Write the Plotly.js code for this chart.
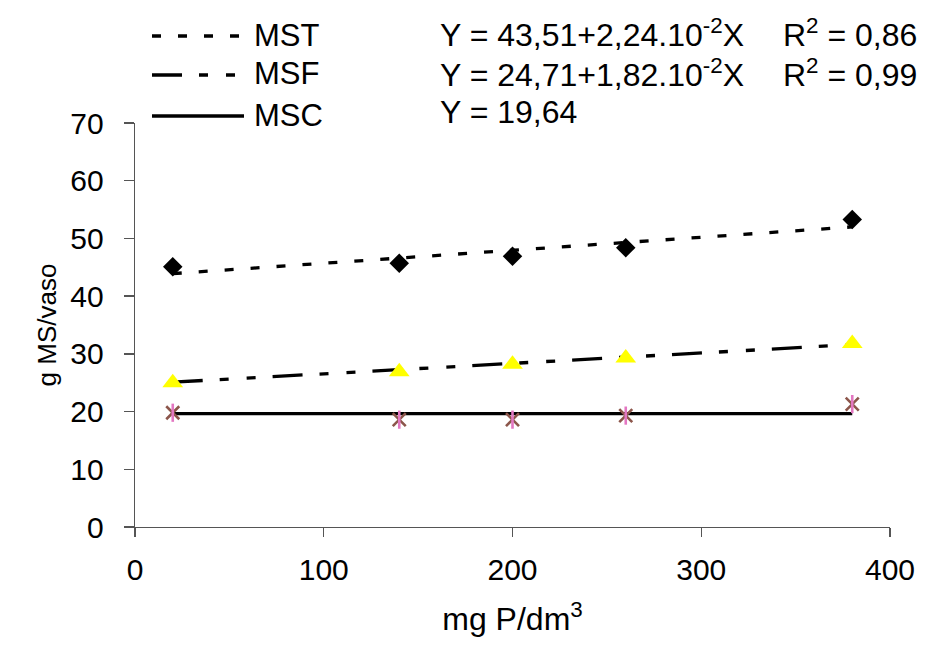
<!DOCTYPE html>
<html>
<head>
<meta charset="utf-8">
<script src="https://cdn.plot.ly/plotly-3.0.1.min.js"></script>
<style>
  html, body { margin: 0; padding: 0; background: #fff; }
  #chart { width: 926px; height: 646px; }
</style>
</head>
<body>
<div id="chart"></div>
<script>
// ---- data ----
var doses = [20, 140, 200, 260, 380];            // mg P/dm3
var mstObs = [45.1, 45.7, 46.9, 48.4, 53.3];      // MST observed
var msfObs = [25.0, 26.9, 28.2, 29.3, 31.8];      // MSF observed
var mscObs = [19.8, 18.6, 18.6, 19.3, 21.3];      // MSC observed
var mstFit = [43.9, 46.6, 48.0, 49.3, 52.0];      // MST fitted line
var msfFit = [25.1, 27.3, 28.3, 29.4, 31.6];      // MSF fitted line
var mscFit = [19.64, 19.64, 19.64, 19.64, 19.64]; // MSC mean line
var seriesNames = ['MST', 'MSF', 'MSC'];
var equations = [
  'Y = 43,51+2,24.10<sup>-2</sup>X',
  'Y = 24,71+1,82.10<sup>-2</sup>X',
  'Y = 19,64'
];
var r2Labels = ['R<sup>2</sup> = 0,86', 'R<sup>2</sup> = 0,99'];
var xTicks = [0, 100, 200, 300, 400];
var yTicks = [0, 10, 20, 30, 40, 50, 60, 70];

// ---- styling ----
var FONT = 'Liberation Sans, Arial, Helvetica, sans-serif';
var dashMST = '9px,17px';
var dashMSF = '30px,17px,9px,18px,9px,17px';
var lineW = 3.3;

var traces = [
  {x: doses, y: mstFit, mode: 'lines', line: {color: '#000', width: lineW, dash: dashMST}, hoverinfo: 'skip'},
  {x: doses, y: msfFit, mode: 'lines', line: {color: '#000', width: lineW, dash: dashMSF}, hoverinfo: 'skip'},
  {x: doses, y: mscFit, mode: 'lines', line: {color: '#000', width: lineW}, hoverinfo: 'skip'},
  {x: doses, y: mstObs, mode: 'markers', marker: {symbol: 'diamond', size: 15, color: '#000'}},
  {x: doses, y: msfObs, mode: 'markers', marker: {symbol: 'triangle-up', size: 18, color: '#FFFF00'}},
  {x: doses, y: mscObs, mode: 'markers', marker: {symbol: 'x-thin-open', size: 13, line: {color: '#800080', width: 2.6}}},
  {x: doses, y: mscObs, mode: 'markers', marker: {symbol: 'line-ns-open', size: 13, line: {color: '#800080', width: 2.6}}}
];

// plot area in pixels: x 135..890, y 123..527
var L = 135, R = 890, T = 123, B = 527;
function px2x(p) { return (p - L) / (R - L); }
function py2y(p) { return (B - p) / (B - T); }

var rowsY = [35, 74, 115];
var eqY = [33, 73, 112];
var dashes = [dashMST, dashMSF, 'solid'];

var shapes = [];
var annotations = [];
for (var i = 0; i < 3; i++) {
  shapes.push({
    type: 'line', xref: 'paper', yref: 'paper',
    x0: px2x(152), x1: px2x(244), y0: py2y(rowsY[i] + 1), y1: py2y(rowsY[i] + 1),
    line: {color: '#000', width: lineW, dash: dashes[i]}
  });
  annotations.push({
    xref: 'paper', yref: 'paper', x: px2x(252), y: py2y(rowsY[i]),
    xanchor: 'left', yanchor: 'middle', showarrow: false,
    text: seriesNames[i], font: {family: FONT, size: 31, color: '#000'}
  });
  annotations.push({
    xref: 'paper', yref: 'paper', x: px2x(438), y: py2y(eqY[i]),
    xanchor: 'left', yanchor: 'middle', showarrow: false,
    text: equations[i], font: {family: FONT, size: 32, color: '#000'}
  });
}
for (var j = 0; j < 2; j++) {
  annotations.push({
    xref: 'paper', yref: 'paper', x: px2x(781), y: py2y(eqY[j]),
    xanchor: 'left', yanchor: 'middle', showarrow: false,
    text: r2Labels[j], font: {family: FONT, size: 32, color: '#000'}
  });
}

var layout = {
  width: 926, height: 646,
  margin: {l: L, r: 926 - R, t: T, b: 646 - B, pad: 0},
  paper_bgcolor: '#fff', plot_bgcolor: '#fff',
  showlegend: false,
  font: {family: FONT, size: 30, color: '#000'},
  xaxis: {
    range: [0, 400], tickvals: xTicks, ticktext: xTicks.map(String),
    showgrid: false, zeroline: false,
    showline: true, linecolor: '#555', linewidth: 1.3,
    ticks: 'outside', ticklen: 9, tickcolor: '#555', tickwidth: 1.3,
    ticklabelstandoff: 7,
    tickfont: {family: FONT, size: 30, color: '#000'},
    title: {text: 'mg P/dm<sup>3</sup>', font: {family: FONT, size: 32, color: '#000'}, standoff: 22},
    fixedrange: true
  },
  yaxis: {
    range: [0, 70], tickvals: yTicks, ticktext: yTicks.map(String),
    showgrid: false, zeroline: false,
    showline: true, linecolor: '#555', linewidth: 1.3,
    ticks: 'outside', ticklen: 10, tickcolor: '#555', tickwidth: 1.3,
    ticklabelstandoff: 14,
    tickfont: {family: FONT, size: 30, color: '#000'},
    title: {text: 'g MS/vaso', font: {family: FONT, size: 26, color: '#000'}, standoff: 6},
    fixedrange: true
  },
  shapes: shapes,
  annotations: annotations
};

Plotly.newPlot('chart', traces, layout, {displayModeBar: false, staticPlot: true});
</script>
</body>
</html>
